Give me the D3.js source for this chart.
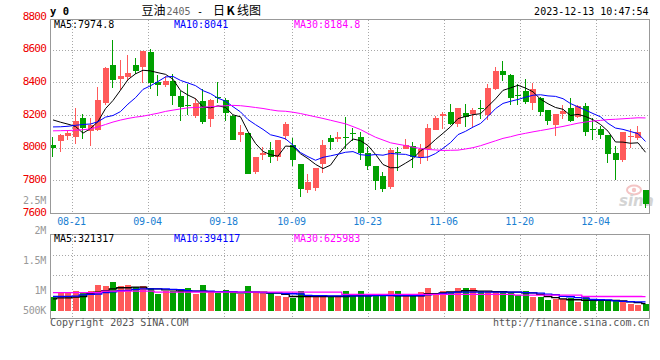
<!DOCTYPE html>
<html><head><meta charset="utf-8">
<script src="https://cdn.jsdelivr.net/npm/d3@7"></script>
<style>
html,body{margin:0;padding:0;background:#fff;}
svg{display:block;}
</style></head><body>
<svg id="c" width="660" height="360"></svg>
<script>
// ---------------- data ----------------
const dates = ["08-16","08-17","08-18","08-21","08-22","08-23","08-24","08-25","08-28","08-29",
"08-30","08-31","09-01","09-04","09-05","09-06","09-07","09-08","09-11","09-12",
"09-13","09-14","09-15","09-18","09-19","09-20","09-21","09-22","09-25","09-26",
"09-27","09-28","10-09","10-10","10-11","10-12","10-13","10-16","10-17","10-18",
"10-19","10-20","10-23","10-24","10-25","10-26","10-27","10-30","10-31","11-01",
"11-02","11-03","11-06","11-07","11-08","11-09","11-10","11-13","11-14","11-15",
"11-16","11-17","11-20","11-21","11-22","11-23","11-24","11-27","11-28","11-29",
"11-30","12-01","12-04","12-05","12-06","12-07","12-08","12-11","12-12","12-13"];
const tickDates = ["08-21","09-04","09-18","10-09","10-23","11-06","11-20","12-04"];

const open = [8022,8043,8073,8067,8186,8104,8114,8277,8512,8422,
8435,8512,8496,8590,8404,8386,8410,8322,8267,8196,
8288,8177,8316,8292,8200,8080,8090,7853,7961,7986,
7945,8073,8022,7904,7745,7759,7902,8065,8059,8069,
8092,8071,7973,7892,7827,7765,7978,7996,8014,7943,
7992,8114,8196,8224,8145,8216,8210,8247,8206,8365,
8475,8445,8328,8353,8279,8306,8231,8143,8208,8245,
8190,8259,8118,8118,8082,7969,7929,8073,8061,7741];
const high = [8071,8088,8104,8243,8212,8182,8377,8496,8665,8537,
8573,8549,8596,8610,8445,8441,8457,8349,8394,8308,
8365,8304,8404,8308,8202,8139,8092,7945,8008,8037,
8053,8163,8061,7906,7843,7880,8051,8082,8102,8188,
8126,8102,8010,7892,7857,8000,8010,8055,8035,8024,
8151,8196,8222,8273,8243,8273,8243,8292,8390,8500,
8532,8457,8390,8426,8398,8316,8231,8210,8265,8306,
8265,8279,8184,8133,8082,8014,8102,8116,8133,7741];
const low = [7945,7976,8047,8027,8055,8012,8104,8267,8369,8359,
8410,8455,8400,8363,8318,8375,8267,8165,8206,8186,
8151,8129,8277,8165,8047,8037,7839,7843,7925,7910,
7920,8047,7892,7704,7725,7735,7851,7986,8035,7996,
8041,7925,7867,7745,7729,7751,7863,7994,7878,7902,
7920,8112,8118,8141,8129,8129,8129,8180,8175,8359,
8410,8263,8263,8273,8231,8198,8143,8075,8177,8163,
8184,8075,8051,8055,7908,7806,7918,8000,8051,7635];
const close = [8000,8078,8090,8169,8124,8139,8292,8488,8416,8439,
8463,8471,8594,8396,8386,8414,8318,8251,8257,8277,
8159,8292,8308,8214,8049,8098,7841,7943,7971,7945,
8053,8151,7929,7753,7794,7880,8020,8035,8071,8065,
8088,7969,7888,7802,7753,7990,7974,8020,7943,7994,
8126,8182,8210,8145,8243,8190,8235,8243,8367,8475,
8451,8308,8324,8282,8361,8224,8169,8210,8228,8169,
8259,8102,8114,8082,7965,7929,8096,8077,8096,7659];

const ma5 = [8173,8159,8147,8133,8092,8120,8163,8242,8292,8355,
8420,8455,8477,8473,8462,8452,8422,8353,8325,8303,
8252,8247,8259,8250,8204,8192,8102,8029,7980,7960,
7951,8013,8010,7966,7936,7901,7875,7896,7960,8014,
8056,8046,8016,7962,7900,7880,7881,7908,7936,7984,
8011,8053,8091,8131,8181,8194,8205,8211,8256,8302,
8354,8369,8385,8368,8345,8300,8272,8249,8238,8200,
8207,8194,8174,8145,8104,8038,8037,8030,8033,7975];
const ma10 = [8130,8131,8134,8140,8145,8148,8162,8190,8200,8224,
8270,8309,8360,8382,8408,8436,8439,8415,8399,8383,
8352,8334,8306,8288,8254,8222,8175,8144,8115,8082,
8071,8057,8019,7973,7948,7926,7944,7953,7963,7975,
7979,7960,7956,7961,7957,7968,7964,7962,7949,7942,
7946,7967,7999,8034,8083,8103,8129,8151,8194,8242,
8274,8287,8298,8312,8324,8327,8320,8317,8303,8273,
8253,8233,8212,8192,8152,8123,8115,8102,8089,8041];
const ma30 = [8106,8107,8108,8110,8113,8118,8130,8145,8160,8172,
8182,8190,8196,8205,8214,8225,8233,8240,8247,8249,
8251,8254,8257,8260,8262,8260,8255,8249,8243,8235,
8228,8226,8220,8212,8202,8192,8182,8171,8160,8149,
8132,8114,8090,8067,8050,8033,8024,8016,8006,7998,
7992,7989,7986,7987,7988,7995,8003,8015,8030,8045,
8060,8070,8082,8091,8100,8108,8116,8125,8133,8143,
8153,8160,8166,8170,8175,8177,8180,8183,8186,8185];

const volume = [630000,790000,820000,890000,820000,850000,1150000,1070000,1280000,1070000,
1110000,1030000,1070000,1010000,720000,890000,890000,960000,1020000,720000,
1110000,820000,790000,930000,850000,750000,1070000,820000,820000,770000,
670000,600000,560000,850000,660000,630000,630000,660000,600000,890000,
670000,850000,670000,750000,670000,850000,850000,670000,670000,820000,
980000,750000,890000,820000,980000,980000,1020000,850000,850000,850000,
820000,820000,700000,850000,590000,590000,460000,530000,530000,570000,
410000,590000,500000,500000,500000,450000,380000,310000,240000,300000];
const volMa5 = [530000,570000,570000,600000,630000,750000,820000,890000,960000,1010000,
1010000,1040000,1040000,960000,960000,920000,920000,860000,860000,860000,
860000,840000,840000,840000,840000,790000,820000,820000,820000,780000,
780000,720000,630000,630000,630000,630000,630000,630000,630000,630000,
660000,660000,660000,690000,690000,690000,660000,660000,660000,660000,
750000,750000,790000,830000,830000,880000,880000,860000,860000,840000,
840000,820000,820000,790000,790000,720000,630000,580000,530000,490000,
490000,460000,460000,460000,460000,460000,440000,400000,360000,321317];
const volMa10 = [630000,630000,640000,650000,700000,720000,740000,800000,830000,880000,
900000,940000,960000,960000,960000,960000,940000,930000,880000,860000,
860000,860000,840000,840000,840000,820000,820000,820000,800000,790000,
790000,760000,750000,740000,680000,670000,670000,660000,660000,660000,
660000,660000,660000,670000,670000,670000,670000,670000,670000,670000,
700000,720000,770000,790000,820000,820000,820000,820000,820000,820000,
820000,820000,820000,800000,790000,780000,730000,710000,640000,620000,
580000,560000,500000,490000,480000,440000,420000,410000,400000,394117];
const volMa30 = [800000,800000,800000,800000,800000,800000,800000,860000,860000,860000,
860000,860000,860000,860000,820000,820000,820000,820000,820000,820000,
820000,820000,820000,820000,820000,820000,820000,820000,820000,820000,
820000,820000,820000,820000,820000,820000,820000,820000,820000,720000,
720000,720000,720000,720000,720000,720000,720000,720000,720000,720000,
720000,720000,720000,720000,720000,720000,720000,720000,720000,720000,
720000,720000,690000,690000,690000,690000,690000,690000,690000,690000,
690000,630000,630000,630000,630000,630000,630000,630000,630000,625983];

const priceTicks = [8800,8600,8400,8200,8000,7800,7600];
const volTickValues = [2500000,2000000,1500000,1000000,500000];
const volTickLabels = ["2.5M","2M","1.5M","1M","500K"];
const maLabels = ["MA5:7974.8","MA10:8041","MA30:8184.8"];
const volMaLabels = ["MA5:321317","MA10:394117","MA30:625983"];
const maColors = ["#000000","#0000ff","#ff00ff"];
const titleCode = "y 0";
const stamp = "2023-12-13 10:47:54";

// ---------------- layout ----------------
const MONO = "'DejaVu Sans Mono', monospace";
const CJK = "'Noto Sans CJK SC', sans-serif";
const RED = "#ff5a5a", GREEN = "#00a000", BORDER = "#999", GRID = "#a8a8a8";
const L = 50, R = 649.5;
const mainTop = 19.5, mainBot = 213.5;
const volTop = 234.5, volBot = 318.5;

const svg = d3.select("#c");
const x = d3.scaleBand().domain(dates).range([49.25, 649.25]).paddingInner(0.2).paddingOuter(0.1);
const xTick = d3.scaleLinear().domain([0, dates.length - 1]).range([49.5, 49.5 + 7.6 * (dates.length - 1)]);
const y = d3.scaleLinear().domain([7600, 8800]).range([213.5, 17.5]);
const yv = d3.scaleLinear().domain([0, 1000000]).range([311, 288]);
const yvLabel = d3.scaleLinear().domain([500000, 2500000]).range([320.5, 200.5]);
const idx = d3.range(dates.length);
const bx = i => Math.round(x(dates[i]));
const cx = i => x(dates[i]) + x.bandwidth() / 2;
const tickX = d => Math.floor(xTick(dates.indexOf(d))) + 0.5;

// ---------------- grid ----------------
const grid = svg.append("g").attr("stroke", GRID).attr("stroke-dasharray", "1,2").attr("shape-rendering", "crispEdges");
grid.selectAll("line.h").data(priceTicks.filter(p => p < 8800 && p > 7600)).join("line")
  .attr("x1", L).attr("x2", R).attr("y1", p => Math.floor(y(p)) + 0.5).attr("y2", p => Math.floor(y(p)) + 0.5);
grid.selectAll("line.v").data(tickDates).join("line")
  .attr("x1", tickX).attr("x2", tickX).attr("y1", mainTop).attr("y2", mainBot);
grid.selectAll("line.vv").data(tickDates).join("line")
  .attr("x1", tickX).attr("x2", tickX).attr("y1", volTop).attr("y2", volBot);
grid.selectAll("line.hv").data([0.25, 0.49]).join("line")
  .attr("x1", L).attr("x2", R)
  .attr("y1", f => Math.floor(volTop + (volBot - volTop) * f) + 0.5)
  .attr("y2", f => Math.floor(volTop + (volBot - volTop) * f) + 0.5);

// ---------------- watermark ----------------
const wm = svg.append("g");
wm.append("ellipse").attr("cx", 634).attr("cy", 190).attr("rx", 7).attr("ry", 4.5)
  .attr("fill", "none").attr("stroke", "#f4c4c4").attr("stroke-width", 2);
wm.append("circle").attr("cx", 634).attr("cy", 190).attr("r", 2.2).attr("fill", "#f4c4c4");
wm.append("text").attr("x", 619).attr("y", 206).attr("font-family", "'DejaVu Sans', sans-serif")
  .attr("font-size", 15).attr("font-weight", "bold").attr("font-style", "italic")
  .attr("fill", "#d4d4d4").text("sina");

// ---------------- candles ----------------
const cg = svg.append("g").attr("shape-rendering", "crispEdges");
cg.selectAll("line").data(idx).join("line")
  .attr("x1", i => bx(i) + 2.5).attr("x2", i => bx(i) + 2.5)
  .attr("y1", i => y(high[i])).attr("y2", i => y(low[i]))
  .attr("stroke", i => close[i] >= open[i] ? RED : GREEN);
cg.selectAll("rect").data(idx).join("rect")
  .attr("x", bx).attr("width", Math.round(x.bandwidth()))
  .attr("y", i => y(Math.max(open[i], close[i])))
  .attr("height", i => Math.max(1, Math.abs(y(open[i]) - y(close[i]))))
  .attr("fill", i => close[i] >= open[i] ? RED : GREEN);

// ---------------- price MA lines ----------------
const mg = svg.append("g").attr("fill", "none").attr("stroke-width", 1);
[ma5, ma10, ma30].forEach((arr, k) => {
  mg.append("path").datum(idx)
    .attr("d", d3.line().x(cx).y(i => y(arr[i])))
    .attr("stroke", maColors[k]);
});

// ---------------- volume ----------------
const vg = svg.append("g").attr("shape-rendering", "crispEdges");
vg.selectAll("rect").data(idx).join("rect")
  .attr("x", bx).attr("width", Math.round(x.bandwidth()))
  .attr("y", i => yv(volume[i])).attr("height", i => yv(0) - yv(volume[i]))
  .attr("fill", i => close[i] >= open[i] ? RED : GREEN);
const vm = svg.append("g").attr("fill", "none").attr("stroke-width", 1.3);
[volMa5, volMa10, volMa30].forEach((arr, k) => {
  vm.append("path").datum(idx)
    .attr("d", d3.line().x(cx).y(i => yv(arr[i])).curve(d3.curveStep))
    .attr("stroke", maColors[k]);
});

// ---------------- borders ----------------
const bd = svg.append("g").attr("fill", "none").attr("stroke", BORDER).attr("shape-rendering", "crispEdges");
bd.append("path").attr("d", `M${L},${mainTop}H${R}V${mainBot}H${L}Z`);
bd.append("path").attr("d", `M${L},${volTop}H${R}V${volBot}H${L}Z`);

// ---------------- text ----------------
const t = svg.append("g").attr("font-family", MONO);
t.selectAll("text.p").data(priceTicks).join("text")
  .attr("x", 46).attr("y", p => y(p) - 1.8).attr("dy", "0.36em")
  .attr("text-anchor", "end").attr("font-size", 11).attr("letter-spacing", -0.8)
  .attr("fill", "#ee0000").text(p => p);
t.selectAll("text.v").data(volTickValues).join("text")
  .attr("x", 46).attr("y", v => Math.min(310.5, yvLabel(v))).attr("dy", "0.36em")
  .attr("text-anchor", "end").attr("font-size", 10).attr("letter-spacing", -0.3)
  .attr("fill", "#999").text((v, k) => volTickLabels[k]);
t.selectAll("text.d").data(tickDates).join("text")
  .attr("x", d => tickX(d) - 1).attr("y", 225)
  .attr("text-anchor", "middle").attr("font-size", 10).attr("letter-spacing", -0.3)
  .attr("fill", "#1a80d2").text(d => d);
t.selectAll("text.m").data(maLabels).join("text")
  .attr("x", (d, k) => 54 + 120 * k).attr("y", 27.5).attr("font-size", 10)
  .attr("fill", (d, k) => maColors[k]).text(d => d);
t.selectAll("text.vm").data(volMaLabels).join("text")
  .attr("x", (d, k) => 54 + 120 * k).attr("y", 242).attr("font-size", 10)
  .attr("fill", (d, k) => maColors[k]).text(d => d);

t.append("text").attr("x", 50).attr("y", 14.5).attr("font-size", 10.5).attr("font-weight", "bold")
  .attr("fill", "#000").text(titleCode);
const title = t.append("text").attr("y", 15).attr("font-size", 12).attr("fill", "#000");
title.append("tspan").attr("x", 141.5).attr("font-family", CJK).text("豆油");
title.append("tspan").attr("x", 166.5).attr("font-size", 10).attr("fill", "#666").text("2405");
title.append("tspan").attr("x", 197).attr("font-size", 10).text("-");
title.append("tspan").attr("x", 213).attr("font-family", CJK).text("日");
title.append("tspan").attr("x", 226.5).attr("font-family", CJK).attr("font-weight", "bold").text("K");
title.append("tspan").attr("x", 237).attr("font-family", CJK).text("线图");
t.append("text").attr("x", 648.5).attr("y", 15).attr("text-anchor", "end").attr("font-size", 10)
  .attr("fill", "#000").text(stamp);
t.append("text").attr("x", 50).attr("y", 325.5).attr("font-size", 10).attr("fill", "#555")
  .text("Copyright 2023 SINA.COM");
t.append("text").attr("x", 649.5).attr("y", 325.5).attr("text-anchor", "end").attr("font-size", 10)
  .attr("fill", "#555").text("http://finance.sina.com.cn");
</script>
</body></html>
